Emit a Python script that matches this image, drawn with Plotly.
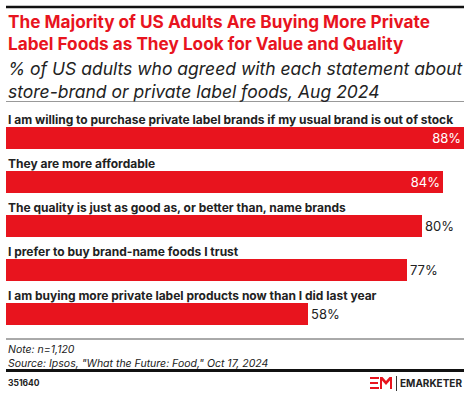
import plotly.graph_objects as go

categories = [
    "I am willing to purchase private label brands if my usual brand is out of stock",
    "They are more affordable",
    "The quality is just as good as, or better than, name brands",
    "I prefer to buy brand-name foods I trust",
    "I am buying more private label products now than I did last year",
]
values = [88, 84, 80, 77, 58]
value_labels = ["88%", "84%", "80%", "77%", "58%"]

RED = "#E8141E"
FONT = "Inter, Roboto, sans-serif"

W, H = 470, 396
ML, MR, MT, MB = 6, 6, 116, 60

idx = list(range(len(categories)))
inside = [v >= 84 for v in values]

fig = go.Figure()
fig.add_trace(go.Bar(
    x=values, y=idx, orientation="h",
    marker=dict(color=RED, line=dict(width=0)),
    width=0.48,
    text=value_labels,
    textposition=["inside" if s else "outside" for s in inside],
    insidetextanchor="end",
    textfont=dict(family=FONT, size=13, color=["white" if s else "#222" for s in inside]),
    constraintext="none",
    cliponaxis=False,
    hoverinfo="skip",
))

annotations = []
for i, c in enumerate(categories):
    annotations.append(dict(
        x=0, y=i, xref="x", yref="y", text="<b>" + c + "</b>",
        showarrow=False, xanchor="left", yanchor="middle", yshift=19,
        font=dict(family=FONT, size=12, color="#222"),
    ))

# title & subtitle (pixel positions, converted below)
annotations += [
    dict(x=6, y=H - 9, xref="paper", yref="paper", text="<b>The Majority of US Adults Are Buying More Private<br>Label Foods as They Look for Value and Quality</b>",
         showarrow=False, xanchor="left", yanchor="top", align="left",
         font=dict(family=FONT, size=17.2, color=RED)),
    dict(x=6, y=H - 56, xref="paper", yref="paper", text="<i>% of US adults who agreed with each statement about<br>store-brand or private label foods, Aug 2024</i>",
         showarrow=False, xanchor="left", yanchor="top", align="left",
         font=dict(family=FONT, size=17.5, color="#222")),
    dict(x=6, y=H - 341, xref="paper", yref="paper", text="<i>Note: n=1,120<br>Source: Ipsos, \"What the Future: Food,\" Oct 17, 2024</i>",
         showarrow=False, xanchor="left", yanchor="top", align="left",
         font=dict(family=FONT, size=10.5, color="#222")),
    dict(x=6, y=H - 383, xref="paper", yref="paper", text="<b>351640</b>",
         showarrow=False, xanchor="left", yanchor="middle",
         font=dict(family=FONT, size=8.5, color="#222")),
    dict(x=464, y=H - 383, xref="paper", yref="paper", text="<b>EMARKETER</b>",
         showarrow=False, xanchor="right", yanchor="middle",
         font=dict(family=FONT, size=10, color="#222")),
]
for a in annotations:
    if a.get("xref") == "paper":
        a["x"] = (a["x"] - ML) / (W - ML - MR)
        a["y"] = (a["y"] - MB) / (H - MT - MB)

def px_x(x):
    return (x - ML) / (W - ML - MR)

def px_y(y):
    return (H - y - MB) / (H - MT - MB)

def hline(y, color, width):
    return dict(type="line", xref="paper", yref="paper", x0=px_x(6), x1=px_x(464),
                y0=px_y(y), y1=px_y(y), line=dict(color=color, width=width))

shapes = [
    hline(7, "#111", 2.5),
    hline(101.5, "#999", 1),
    hline(339, "#555", 1),
    hline(370.5, "#111", 3),
    dict(type="line", xref="paper", yref="paper", x0=px_x(396.5), x1=px_x(396.5), y0=px_y(376), y1=px_y(391),
         line=dict(color="#333", width=1)),
]

def rect(x0, y0, x1, y1):
    return dict(type="rect", xref="paper", yref="paper", x0=px_x(x0), x1=px_x(x1), y0=px_y(y1), y1=px_y(y0),
                fillcolor=RED, line=dict(width=0))

# EM logo (decorative)
shapes += [
    rect(370, 377, 379, 379),
    rect(370, 382, 378, 384),
    rect(370, 387, 379, 389),
]
path = (f"M {px_x(380)},{px_y(389)} L {px_x(380)},{px_y(377)} L {px_x(382.5)},{px_y(377)} "
        f"L {px_x(386)},{px_y(381)} L {px_x(389.5)},{px_y(377)} L {px_x(392)},{px_y(377)} "
        f"L {px_x(392)},{px_y(389)} L {px_x(390)},{px_y(389)} L {px_x(390)},{px_y(380.5)} "
        f"L {px_x(386)},{px_y(385)} L {px_x(382)},{px_y(380.5)} L {px_x(382)},{px_y(389)} Z")
shapes.append(dict(type="path", xref="paper", yref="paper", path=path, fillcolor=RED, line=dict(width=0)))

fig.update_layout(
    width=W, height=H,
    margin=dict(l=ML, r=MR, t=MT, b=MB, pad=0),
    paper_bgcolor="white", plot_bgcolor="white",
    showlegend=False,
    xaxis=dict(range=[0, 88], visible=False, fixedrange=True),
    yaxis=dict(range=[len(categories) - 0.5, -0.5], visible=False, fixedrange=True),
    annotations=annotations,
    shapes=shapes,
    bargap=0,
)

fig.write_html("out.html", config={"displayModeBar": False},
               post_script="document.body.style.margin='0';document.body.style.overflow='hidden';")
